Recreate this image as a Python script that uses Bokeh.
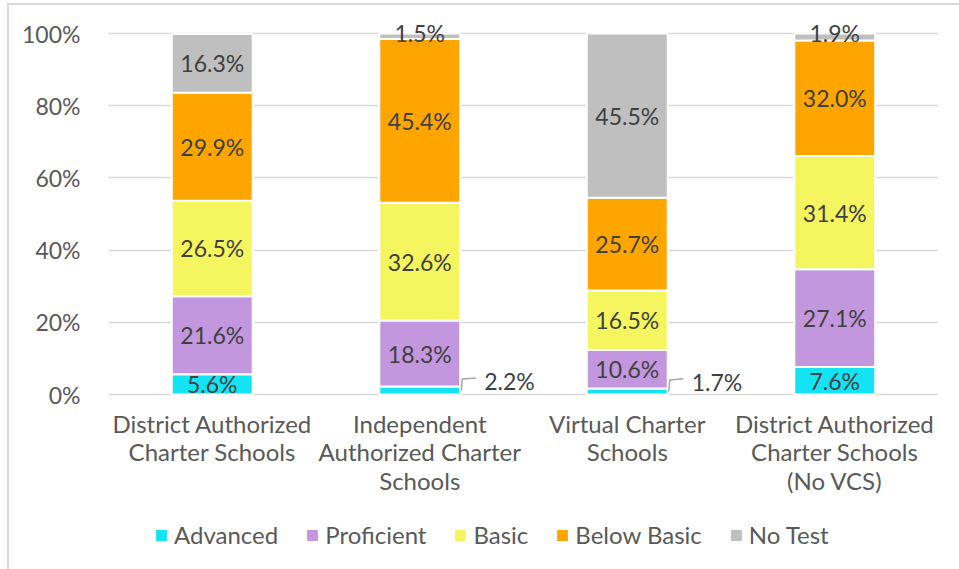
from bokeh.plotting import figure
from bokeh.models import ColumnDataSource, Range1d, FixedTicker, Legend, LegendItem
from bokeh.core.properties import value
from bokeh.embed import file_html
from bokeh.resources import INLINE

categories = ["District Authorized\nCharter Schools",
              "Independent\nAuthorized Charter\nSchools",
              "Virtual Charter\nSchools",
              "District Authorized\nCharter Schools\n(No VCS)"]
levels = ["Advanced", "Proficient", "Basic", "Below Basic", "No Test"]
advanced = [5.6, 2.2, 1.7, 7.6]
proficient = [21.6, 18.3, 10.6, 27.1]
basic = [26.5, 32.6, 16.5, 31.4]
below_basic = [29.9, 45.4, 25.7, 32.0]
no_test = [16.3, 1.5, 45.5, 1.9]
colors = ["#14E3F3", "#C397DE", "#F5F55F", "#FFA500", "#BFBFBF"]
y_ticks = [0, 20, 40, 60, 80, 100]
y_tick_labels = ["0%", "20%", "40%", "60%", "80%", "100%"]

FONT = "Lato"
FS = "23px"
FS_CAT = "24px"
series = [advanced, proficient, basic, below_basic, no_test]
xs = [i + 0.5 for i in range(len(categories))]
BAR_W = 0.39

src = ColumnDataSource(dict(x=xs, **{lv: s for lv, s in zip(levels, series)}))

p = figure(width=959, height=569, output_backend="svg", toolbar_location=None,
           x_range=Range1d(0, 4), y_range=Range1d(-48.47, 106.93),
           min_border_left=108, min_border_right=21, min_border_top=8,
           min_border_bottom=0)
p.outline_line_color = None
p.border_fill_color = None
p.background_fill_color = "white"
p.styles = {"background": "linear-gradient(#D9D9D9,#D9D9D9) 7px 3px / 2px 100% no-repeat, "
                          "linear-gradient(#D9D9D9,#D9D9D9) 7px 3px / 100% 2px no-repeat, white"}

renderers = p.vbar_stack(levels, x="x", width=BAR_W, source=src, color=colors,
                         line_color="white", line_width=2)

# data labels
in_x, in_y, in_t = [], [], []
ab_x, ab_y, ab_t = [], [], []
rt_x, rt_y, rt_t = [], [], []
ld_xs, ld_ys = [], []
for ci, x in enumerate(xs):
    base = 0.0
    for si, s in enumerate(series):
        v = s[ci]
        lbl = f"{v:.1f}%"
        mid = base + v / 2
        if v >= 3:
            in_x.append(x); in_y.append(mid); in_t.append(lbl)
        elif si == len(series) - 1:
            ab_x.append(x); ab_y.append(base + v); ab_t.append(lbl)
        else:
            edge = x + BAR_W / 2
            rt_x.append(edge); rt_y.append(mid + 2.6); rt_t.append(lbl)
            ld_xs.append([edge + 0.005, edge + 0.01, edge + 0.075])
            ld_ys.append([mid, mid + 3.2, mid + 3.5])
        base += v

txt = dict(text_font=value(FONT), text_font_size=FS, text_color="#404040")
p.text(x=in_x, y=in_y, text=in_t, text_align="center", text_baseline="middle", **txt)
p.text(x=ab_x, y=ab_y, text=ab_t, text_align="center", text_baseline="alphabetic",
       y_offset=-1, **txt)
p.text(x=rt_x, y=rt_y, text=rt_t, text_align="left", text_baseline="middle",
       x_offset=24, **txt)
p.multi_line(xs=ld_xs, ys=ld_ys, line_color="#A6A6A6", line_width=1.5)

# category labels (drawn under the baseline)
p.text(x=xs, y=[0] * len(xs), text=categories, text_align="center", text_baseline="top",
       y_offset=14, text_line_height=0.99, text_font=value(FONT), text_font_size=FS_CAT,
       text_color="#595959")

# axes
p.xgrid.visible = False
p.xaxis.visible = False
p.ygrid.ticker = FixedTicker(ticks=y_ticks)
p.ygrid.grid_line_color = "#D9D9D9"
p.ygrid.grid_line_width = 1.5

ya = p.yaxis[0]
ya.ticker = FixedTicker(ticks=y_ticks)
ya.major_label_overrides = {t: l for t, l in zip(y_ticks, y_tick_labels)}
ya.axis_line_color = None
ya.major_tick_line_color = None
ya.minor_tick_line_color = None
ya.major_label_text_font = FONT
ya.major_label_text_font_size = FS
ya.major_label_text_color = "#595959"
ya.major_label_standoff = 22

legend = Legend(items=[LegendItem(label=l, renderers=[r]) for l, r in zip(levels, renderers)],
                orientation="horizontal", location=(45, 20),
                glyph_width=16, glyph_height=16, label_standoff=5, spacing=26,
                label_text_font=FONT, label_text_font_size=FS_CAT,
                label_text_color="#595959", border_line_color=None,
                background_fill_alpha=0, padding=0, margin=0)
p.add_layout(legend, "center")

open("out.html", "w").write(file_html(p, INLINE))
